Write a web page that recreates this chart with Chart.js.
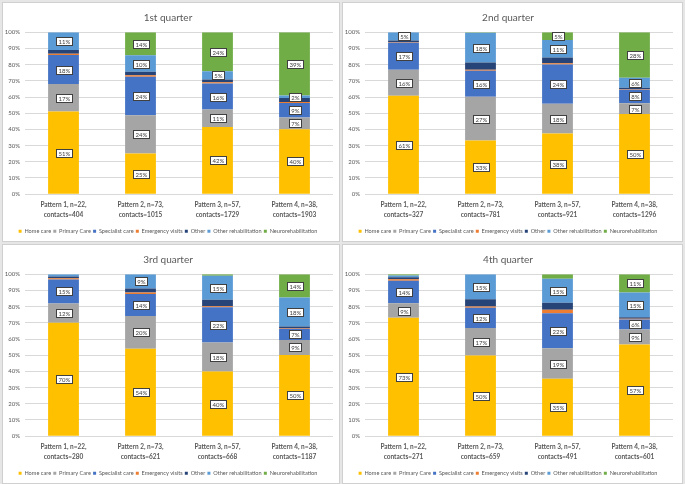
<!DOCTYPE html>
<html>
<head>
<meta charset="utf-8">
<script src="https://cdn.jsdelivr.net/npm/chart.js@4.4.1/dist/chart.umd.min.js"></script>
<style>
  body { margin: 0; width: 685px; height: 484px; background: #e6e6e6; position: relative; overflow: hidden; }
  .panel { position: absolute; background: #fff; border: 1px solid #d0d0d0; box-sizing: border-box; }
  canvas { display: block; }
</style>
</head>
<body>
<div class="panel" style="left:2px;top:2px;width:338px;height:240px"><canvas id="q1" width="336" height="238"></canvas></div>
<div class="panel" style="left:342px;top:2px;width:341px;height:240px"><canvas id="q2" width="339" height="238"></canvas></div>
<div class="panel" style="left:2px;top:244px;width:338px;height:240px"><canvas id="q3" width="336" height="238"></canvas></div>
<div class="panel" style="left:342px;top:244px;width:341px;height:240px"><canvas id="q4" width="339" height="238"></canvas></div>
<script>
// titles and categories
const quarterTitles = ['1st quarter', '2nd quarter', '3rd quarter', '4th quarter'];
const patterns = ['Pattern 1, n=22,', 'Pattern 2, n=73,', 'Pattern 3, n=57,', 'Pattern 4, n=38,'];
const contacts = [
  [404, 1015, 1729, 1903],
  [327, 781, 921, 1296],
  [280, 621, 668, 1187],
  [271, 659, 491, 601]
];

// share of contacts in %, one row per quarter, one value per pattern
const homeCare = [
  [51, 25.2, 41.5, 40.1],
  [60.8, 33.2, 37.5, 49.6],
  [70, 54, 40, 50.2],
  [73.1, 49.8, 35.4, 56.6]
];
const primaryCare = [
  [17, 23.6, 10.8, 7.2],
  [16, 27, 18.4, 6.6],
  [12, 20.2, 17.8, 9.2],
  [9, 17.1, 18.9, 9.3]
];
const specialistCare = [
  [18, 23.8, 16, 9],
  [16.8, 16, 24.2, 8.3],
  [14.8, 13.7, 21.9, 7],
  [13.9, 12.4, 21.6, 6.2]
];
const emergencyVisits = [
  [0.8, 0.8, 0.9, 0.7],
  [0.3, 0.7, 0.8, 0.3],
  [0.7, 0.8, 0.5, 0.5],
  [1, 0.8, 2.2, 0.5]
];
const other = [
  [2.2, 2.2, 1.7, 2.4],
  [1, 4.4, 3.6, 0.9],
  [1.1, 2.6, 4.1, 0.8],
  [1.2, 4.5, 4.4, 0.8]
];
const otherRehabilitation = [
  [11, 10.2, 5, 1.6],
  [5.1, 18.4, 10.8, 6.3],
  [1.4, 8.7, 14.8, 18],
  [1, 15.4, 14.8, 15.3]
];
const neurorehabilitation = [
  [0, 14.2, 24.1, 39],
  [0, 0.3, 4.7, 28],
  [0, 0, 0.9, 14.3],
  [0.8, 0, 2.7, 11.3]
];

const series = [
  { name: 'Home care', values: homeCare, color: '#FFC000', labelled: true },
  { name: 'Primary Care', values: primaryCare, color: '#A5A5A5', labelled: true },
  { name: 'Specialist care', values: specialistCare, color: '#4472C4', labelled: true },
  { name: 'Emergency visits', values: emergencyVisits, color: '#ED7D31', labelled: false },
  { name: 'Other', values: other, color: '#264478', labelled: false },
  { name: 'Other rehabilitation', values: otherRehabilitation, color: '#5B9BD5', labelled: true },
  { name: 'Neurorehabilitation', values: neurorehabilitation, color: '#70AD47', labelled: true }
];
// labels that the original leaves out
const hiddenLabels = ['3|Neurorehabilitation|2'];

const FONT = "Lato, 'Noto Sans', sans-serif";
const GREY = '#595959';

// boxed % labels in the middle of each segment
const segmentLabels = {
  id: 'segmentLabels',
  afterDatasetsDraw(chart, args, opts) {
    const ctx = chart.ctx;
    ctx.save();
    ctx.font = '6px ' + FONT;
    ctx.textAlign = 'center';
    ctx.textBaseline = 'middle';
    chart.data.datasets.forEach((ds, d) => {
      if (!ds.labelled) return;
      const meta = chart.getDatasetMeta(d);
      ds.data.forEach((v, i) => {
        if (v < 1.5) return;
        if (hiddenLabels.includes(opts.quarter + '|' + ds.label + '|' + i)) return;
        const bar = meta.data[i];
        const cx = bar.x;
        const cy = (bar.y + bar.base) / 2;
        const txt = Math.round(v) + '%';
        const w = Math.round(ctx.measureText(txt).width + 4);
        const h = 8;
        const x0 = Math.round(cx - w / 2) + 0.5;
        const y0 = Math.round(cy - h / 2) + 0.5;
        ctx.fillStyle = '#fff';
        ctx.fillRect(x0, y0, w, h);
        ctx.strokeStyle = '#404040';
        ctx.lineWidth = 1;
        ctx.strokeRect(x0, y0, w, h);
        ctx.fillStyle = '#404040';
        ctx.fillText(txt, x0 + w / 2, y0 + h / 2 + 0.5);
      });
    });
    ctx.restore();
  }
};

function drawQuarter(q) {
  const ctx = document.getElementById('q' + (q + 1));
  new Chart(ctx, {
    type: 'bar',
    data: {
      labels: patterns.map((p, i) => [p, 'contacts=' + contacts[q][i]]),
      datasets: series.map(s => ({
        label: s.name,
        data: s.values[q],
        backgroundColor: s.color,
        borderWidth: 0,
        labelled: s.labelled,
        barPercentage: 0.4,
        categoryPercentage: 1
      }))
    },
    options: {
      responsive: false,
      animation: false,
      devicePixelRatio: 1,
      layout: { padding: { left: 0, right: q % 2 ? 9 : 6, top: 0, bottom: -3 } },
      plugins: {
        title: {
          display: true,
          text: quarterTitles[q],
          color: GREY,
          font: { family: FONT, size: 10, weight: 'normal' },
          padding: { top: 8.5, bottom: 8.8 }
        },
        legend: {
          position: 'bottom',
          labels: {
            boxWidth: 3,
            boxHeight: 3,
            color: GREY,
            padding: 2.2,
            font: { family: FONT, size: 5.6 }
          }
        },
        tooltip: { enabled: false },
        segmentLabels: { quarter: q }
      },
      scales: {
        x: {
          stacked: true,
          grid: { display: false, drawTicks: false },
          border: { display: false },
          ticks: {
            color: GREY,
            padding: 6,
            maxRotation: 0,
            autoSkip: false,
            font: { family: FONT, size: 6.5, weight: 'bold', lineHeight: 1.54 }
          }
        },
        y: {
          stacked: true,
          min: 0,
          max: 100,
          afterFit: scale => { scale.width = 22; },
          grid: { color: '#d9d9d9', drawTicks: false },
          border: { display: false },
          ticks: {
            stepSize: 10,
            color: GREY,
            padding: 5,
            font: { family: FONT, size: 6 },
            callback: v => v + '%'
          }
        }
      }
    },
    plugins: [segmentLabels]
  });
}

[0, 1, 2, 3].forEach(drawQuarter);
</script>
</body>
</html>
